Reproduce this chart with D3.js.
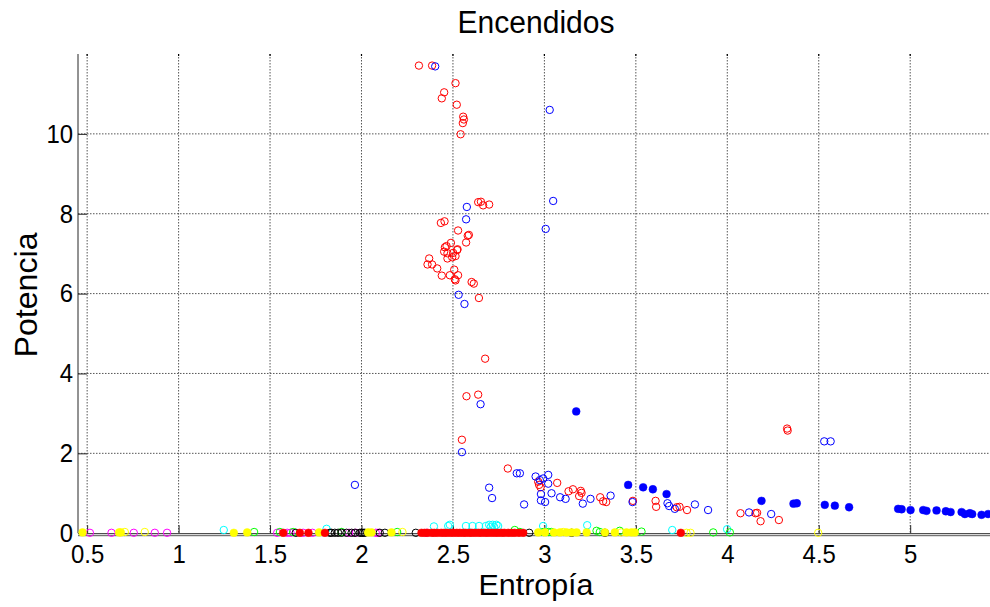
<!DOCTYPE html>
<html><head><meta charset="utf-8">
<script src="https://cdn.jsdelivr.net/npm/d3@7"></script>
<style>
html,body{margin:0;padding:0;background:#fff;}
svg{display:block;font-family:"Liberation Sans",Arial,sans-serif;}
</style></head>
<body>
<svg id="chart" width="990" height="607"></svg>
<script>
// ---------------- data ----------------
const titleText = "Encendidos";
const xLabel = "Entropía";
const yLabel = "Potencia";
const xTicks = [0.5, 1, 1.5, 2, 2.5, 3, 3.5, 4, 4.5, 5];
const yTicks = [0, 2, 4, 6, 8, 10];

const redOpen = [
[2.314,11.71],[2.386,11.71],[2.514,11.27],[2.452,11.04],[2.439,10.89],[2.521,10.73],[2.556,10.43],[2.560,10.36],[2.554,10.27],[2.542,9.99],
[2.638,8.29],[2.653,8.30],[2.665,8.21],[2.698,8.23],[2.434,7.77],[2.454,7.81],[2.528,7.58],[2.587,7.47],[2.581,7.45],[2.572,7.28],
[2.489,7.27],[2.465,7.19],[2.456,7.16],[2.525,7.11],[2.452,7.05],[2.470,7.01],[2.501,7.02],[2.523,7.09],[2.514,6.94],[2.470,6.88],
[2.496,6.91],[2.370,6.88],[2.361,6.73],[2.386,6.73],[2.414,6.63],[2.439,6.45],[2.483,6.46],[2.507,6.60],[2.528,6.46],[2.510,6.36],
[2.514,6.33],[2.602,6.29],[2.614,6.25],[2.642,5.89],[2.676,4.37],[2.574,3.43],[2.638,3.47],[2.549,2.34],
[2.800,1.62],[2.966,1.29],[2.971,1.21],[2.979,1.15],[3.070,1.26],[3.132,1.05],[3.156,1.10],[3.190,0.93],[3.199,1.06],[3.203,1.01],
[3.305,0.90],[3.321,0.80],[3.338,0.78],[3.484,0.81],[3.608,0.81],[3.611,0.66],[3.724,0.65],[3.739,0.66],[3.780,0.58],
[4.072,0.50],[4.154,0.50],[4.163,0.51],[4.182,0.30],[4.282,0.33],[4.327,2.62],[4.330,2.57]
];
const blueOpen = [
[2.403,11.69],[3.029,10.60],[3.048,8.32],[2.576,8.17],[2.572,7.86],[3.007,7.62],[2.531,5.97],[2.563,5.74],[2.651,3.23],[2.549,2.03],
[1.964,1.21],[4.530,2.30],[4.565,2.30],
[2.849,1.50],[2.866,1.50],[2.952,1.42],[2.975,1.33],[2.993,1.37],[3.021,1.46],[3.021,1.24],[2.698,1.14],[2.714,0.88],[2.889,0.72],
[2.981,0.98],[2.981,0.82],[3.004,0.78],[3.039,1.00],[3.086,0.90],[3.116,0.86],[3.210,0.74],[3.252,0.86],[3.362,0.94],[3.482,0.78],
[3.673,0.75],[3.682,0.68],[3.713,0.61],[3.823,0.72],[3.895,0.58],[4.119,0.52],[4.240,0.48]
];
const blueFilled = [
[3.174,3.05],[3.458,1.21],[3.540,1.15],[3.593,1.10],[3.668,0.98],[4.187,0.81],[4.362,0.74],[4.380,0.75],[4.533,0.71],[4.588,0.69],
[4.666,0.65],[4.934,0.61],[4.953,0.60],[5.002,0.58],[5.071,0.58],[5.089,0.56],[5.144,0.57],[5.195,0.55],[5.221,0.53],[5.281,0.53],
[5.299,0.48],[5.326,0.50],[5.339,0.48],[5.390,0.46],[5.426,0.48]
];
const magentaOpen = [
[0.515,0.01],[0.633,0.01],[0.755,0.01],[0.870,0.01],[0.937,0.01],[1.539,0.01],[1.594,0.01],[1.612,0.01],[1.681,0.01],[1.732,0.01],
[1.932,0.01],[1.969,0.01],[2.078,0.01],[2.091,0.01],[2.356,0.01]
];
const yellowFilled = [
[0.475,0.02],[0.675,0.02],[0.684,0.02],[1.302,0.01],[1.375,0.02],[1.768,0.02],[2.036,0.02],[2.055,0.02],[2.164,0.02],[2.966,0.02],
[3.003,0.02],[3.052,0.02],[3.085,0.02],[3.121,0.02],[3.149,0.02],[3.176,0.02],[3.231,0.02],[3.331,0.02],[3.385,0.02],[3.449,0.02],
[3.476,0.02],[3.494,0.02]
];
const yellowOpen = [
[0.706,0.03],[0.815,0.03],[2.224,0.03],[3.103,0.03],[3.420,0.02],[3.777,0.01],[3.799,0.01],[4.497,0.01]
];
const greenOpen = [
[1.413,0.03],[1.554,0.03],[1.626,0.03],[1.891,0.03],[2.195,0.03],[2.838,0.08],[2.866,0.03],[2.993,0.03],[3.021,0.03],[3.039,0.03],
[3.285,0.06],[3.303,0.03],[3.412,0.06],[3.531,0.04],[3.923,0.02],[4.014,0.02]
];
const cyanOpen = [
[1.247,0.08],[1.809,0.11],[2.396,0.17],[2.474,0.18],[2.483,0.21],[2.571,0.18],[2.607,0.18],[2.643,0.18],[2.680,0.18],[2.698,0.21],
[2.706,0.15],[2.717,0.21],[2.726,0.15],[2.738,0.21],[2.747,0.18],[2.993,0.18],[3.234,0.20],[3.699,0.08],[3.999,0.10]
];
const blackOpen = [
[1.641,0.01],[1.827,0.01],[1.836,0.01],[1.854,0.01],[1.872,0.01],[1.891,0.01],[1.918,0.01],[1.946,0.01],[1.964,0.01],[1.991,0.01],
[2.000,0.01],[2.009,0.01],[2.018,0.01],[2.100,0.01],[2.128,0.01],[2.297,0.01],[2.917,0.01],[3.149,0.01],[3.331,0.01]
];
const redFilled = [
[1.572,0.01],[1.663,0.01],[1.710,0.01],[1.800,0.01],
[2.328,0.01],[2.345,0.01],[2.361,0.01],[2.384,0.01],[2.398,0.01],[2.415,0.01],[2.436,0.01],[2.452,0.01],[2.468,0.01],[2.487,0.01],
[2.503,0.01],[2.521,0.01],[2.538,0.01],[2.556,0.01],[2.570,0.01],[2.589,0.01],[2.604,0.01],[2.622,0.01],[2.641,0.01],[2.657,0.01],
[2.676,0.01],[2.692,0.01],[2.711,0.01],[2.729,0.01],[2.746,0.01],[2.765,0.01],[2.781,0.01],[2.802,0.01],[2.820,0.01],[2.838,0.01],
[2.861,0.01],[2.884,0.01],[3.746,0.01]
];

// ---------------- layout ----------------
const svg = d3.select("#chart");
const pLeft = 78, pRight = 992.5, pTop = 54, pBottom = 533.2;
const x = d3.scaleLinear().domain([0.45, 5.45]).range([pLeft, pRight]);
const y = d3.scaleLinear().domain([0, 12]).range([pBottom, pTop]);
const axisColor = "#262626";

svg.append("defs").append("clipPath").attr("id","clip")
  .append("rect").attr("x", pLeft).attr("y", pTop - 10).attr("width", 990 - pLeft).attr("height", pBottom - pTop + 14);

// grid
const grid = svg.append("g");
grid.selectAll("line.vg").data(xTicks).join("line")
  .attr("x1", d => x(d)).attr("x2", d => x(d)).attr("y1", pTop).attr("y2", pBottom)
  .attr("stroke", "#3a3a3a").attr("stroke-width", 1).attr("stroke-dasharray", "1.5,1.5").attr("opacity", 0.85);
grid.selectAll("line.hg").data(yTicks.filter(d => d > 0)).join("line")
  .attr("x1", pLeft).attr("x2", 990).attr("y1", d => y(d)).attr("y2", d => y(d))
  .attr("stroke", "#3a3a3a").attr("stroke-width", 1).attr("stroke-dasharray", "1.5,1.5").attr("opacity", 0.85);
grid.selectAll("line.tt").data(xTicks).join("line")
  .attr("x1", d => x(d)).attr("x2", d => x(d)).attr("y1", pTop).attr("y2", pTop + 2)
  .attr("stroke", "#000").attr("stroke-width", 1.2);

// axes
const fmt = d3.format("~g");
const xAxis = svg.append("g").attr("transform", `translate(0,${pBottom})`)
  .call(d3.axisBottom(x).tickValues(xTicks).tickFormat(fmt).tickSizeInner(-8).tickSizeOuter(0).tickPadding(11));
const yAxis = svg.append("g").attr("transform", `translate(${pLeft},0)`)
  .call(d3.axisLeft(y).tickValues(yTicks).tickFormat(fmt).tickSizeInner(-9).tickSizeOuter(0).tickPadding(5));
[xAxis, yAxis].forEach(g => {
  g.select(".domain").attr("stroke", axisColor).attr("stroke-width", 1);
  g.selectAll(".tick line").attr("stroke", axisColor).attr("stroke-width", 1);
  g.selectAll(".tick text").attr("fill", "#000").attr("font-size", 26)
    .attr("font-family", '"Liberation Sans", Arial, sans-serif')
    .each(function() {
      const w = this.getComputedTextLength();
      d3.select(this).attr("textLength", w * 0.92).attr("lengthAdjust", "spacingAndGlyphs");
    });
});
yAxis.select(".domain").attr("d", `M0,${pTop}V${pBottom}`);
svg.append("line").attr("x1", pLeft).attr("x2", 990).attr("y1", pBottom + 2.5).attr("y2", pBottom + 2.5)
  .attr("stroke", "#555").attr("stroke-width", 1);

// points
const plot = svg.append("g").attr("clip-path", "url(#clip)");
function openSeries(data, color) {
  plot.append("g").selectAll("circle").data(data).join("circle")
    .attr("cx", d => x(d[0])).attr("cy", d => y(d[1])).attr("r", 3.7)
    .attr("fill", "none").attr("stroke", color).attr("stroke-width", 1);
}
function filledSeries(data, color) {
  plot.append("g").selectAll("circle").data(data).join("circle")
    .attr("cx", d => x(d[0])).attr("cy", d => y(d[1])).attr("r", 3.9)
    .attr("fill", color).attr("stroke", color).attr("stroke-width", 0.5);
}
openSeries(magentaOpen, "#ff00ff");
openSeries(cyanOpen, "#00ffff");
openSeries(greenOpen, "#00ff00");
openSeries(blackOpen, "#000000");
filledSeries(yellowFilled, "#ffff00");
openSeries(yellowOpen, "#ffff00");
filledSeries(redFilled, "#ff0000");
openSeries(redOpen, "#ff0000");
openSeries(blueOpen, "#0000ff");
filledSeries(blueFilled, "#0000ff");

// titles
svg.append("text").attr("x", 536).attr("y", 33).attr("text-anchor", "middle")
  .attr("font-size", 31).attr("fill", "#000")
  .attr("textLength", 157).attr("lengthAdjust", "spacingAndGlyphs").text(titleText);
svg.append("text").attr("x", 536).attr("y", 595).attr("text-anchor", "middle")
  .attr("font-size", 29.5).attr("fill", "#000")
  .attr("textLength", 115).attr("lengthAdjust", "spacingAndGlyphs").text(xLabel);
svg.append("text").attr("transform", "translate(37,295) rotate(-90)").attr("text-anchor", "middle")
  .attr("font-size", 31).attr("fill", "#000")
  .attr("textLength", 125).attr("lengthAdjust", "spacingAndGlyphs").text(yLabel);
</script>
</body></html>
